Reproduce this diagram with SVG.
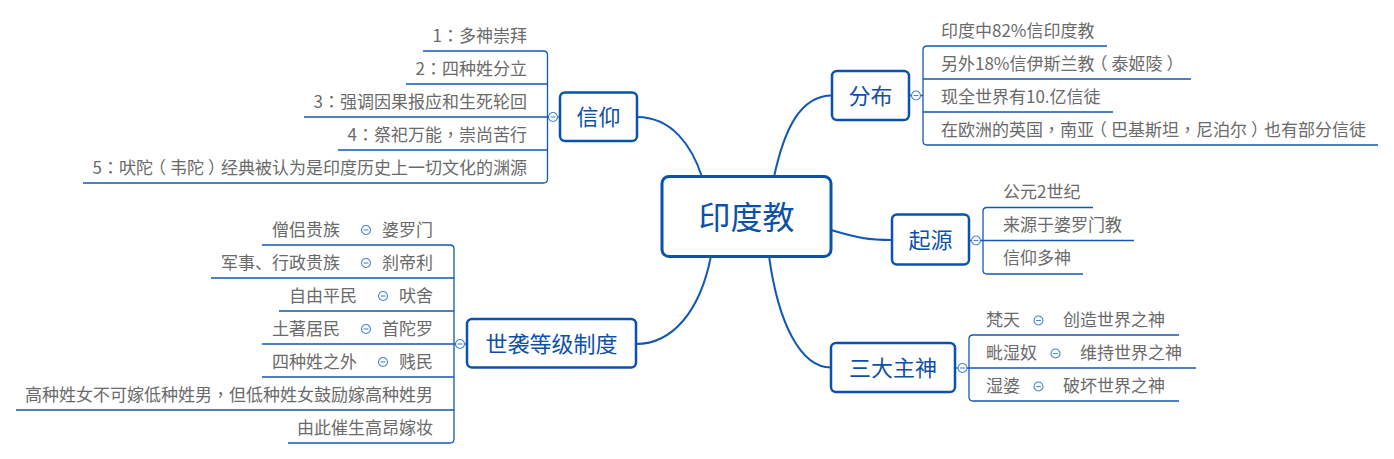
<svg xmlns="http://www.w3.org/2000/svg" xmlns:xlink="http://www.w3.org/1999/xlink" width="1394" height="459" viewBox="0 0 1394 459">
<style>
.t{font-family:"Noto Sans CJK SC","Microsoft YaHei","Liberation Sans",sans-serif;font-size:17px;fill:#6a6a6a}
.p{font-family:"Noto Sans CJK TC","Noto Sans CJK SC",sans-serif}
.tb{font-family:"Noto Sans CJK SC","Microsoft YaHei","Liberation Sans",sans-serif;font-size:22px;fill:#0d50a8;text-anchor:middle}
.tc{font-family:"Noto Sans CJK SC","Microsoft YaHei","Liberation Sans",sans-serif;font-size:32px;fill:#0d50a8;text-anchor:middle}
.e{text-anchor:end}
.k{letter-spacing:-4px}
.box{fill:#fff;stroke:#0b52ad;stroke-width:2.5}
.cbox{fill:#fff;stroke:#0b52ad;stroke-width:3}
.ln{fill:none;stroke:#1259b3;stroke-width:1.3}
.conn{fill:none;stroke:#1259b3;stroke-width:2}
</style>
<defs>
<g id="tog"><circle r="4.5" fill="#fff" stroke="#4a85cf" stroke-width="1.1"/><line x1="-2.4" y1="0" x2="2.4" y2="0" stroke="#4a85cf" stroke-width="1.1"/></g>
</defs>
<rect width="1394" height="459" fill="#fff"/>
<g id="connectors">
<path class="conn" d="M637,117 C672,117 692,146 702,177"/>
<path class="conn" d="M774,177 C784,130 800,95.5 832,95.5"/>
<path class="conn" d="M831,230 C858,238 868,240 892,240"/>
<path class="conn" d="M769,256 C778,322 800,367.5 831,367.5"/>
<path class="conn" d="M711,256 C700,312 672,344 636,344"/>
</g>
<g id="root">
<rect class="cbox" x="662" y="176.5" width="169" height="80" rx="7"/>
<text class="tc" x="746.5" y="228.5">印度教</text>
</g>
<g id="xinyang">
<rect class="box" x="560" y="92.5" width="77" height="48.5" rx="5"/>
<text class="tb" x="598.5" y="125">信仰</text>
<path class="ln" d="M557.5,117 H560"/>
<use xlink:href="#tog" x="553" y="117"/>
<path class="ln" d="M423,51 H543.5 Q547.5,51 547.5,55 V179 Q547.5,183 543.5,183 H83"/>
<path class="ln" d="M406,84 H547.5 M304,117 H548.5 M338,150 H547.5"/>
<text class="t e" x="527" y="42">1<tspan class="p">：</tspan>多神崇拜</text>
<text class="t e" x="527" y="75">2<tspan class="p">：</tspan>四种姓分立</text>
<text class="t e" x="527" y="108">3<tspan class="p">：</tspan>强调因果报应和生死轮回</text>
<text class="t e" x="527" y="141">4<tspan class="p">：</tspan>祭祀万能<tspan class="p">，</tspan>崇尚苦行</text>
<text class="t e" x="527" y="174">5<tspan class="p">：</tspan>吠<tspan class="k">陀</tspan>（<tspan dx="4">韦陀</tspan><tspan class="k" dx="4">）</tspan>经典被认为是印度历史上一切文化的渊源</text>
</g>
<g id="shixi">
<rect class="box" x="467" y="319" width="169" height="48.5" rx="5"/>
<text class="tb" x="551.5" y="352">世袭等级制度</text>
<path class="ln" d="M464.5,344 H467"/>
<use xlink:href="#tog" x="460" y="344"/>
<path class="ln" d="M262,245 H450 Q454,245 454,249 V439 Q454,443 450,443 H288"/>
<path class="ln" d="M211,278 H454 M279,311 H454 M262,344 H455.5 M262,377 H454 M16,410 H454"/>
<text class="t e" x="433" y="236">婆罗门</text>
<use xlink:href="#tog" x="366" y="230"/>
<text class="t e" x="340" y="236">僧侣贵族</text>
<text class="t e" x="433" y="269">刹帝利</text>
<use xlink:href="#tog" x="366" y="263"/>
<text class="t e" x="340" y="269">军事、行政贵族</text>
<text class="t e" x="433" y="302">吠舍</text>
<use xlink:href="#tog" x="383" y="296"/>
<text class="t e" x="357" y="302">自由平民</text>
<text class="t e" x="433" y="335">首陀罗</text>
<use xlink:href="#tog" x="366" y="329"/>
<text class="t e" x="340" y="335">土著居民</text>
<text class="t e" x="433" y="368">贱民</text>
<use xlink:href="#tog" x="383" y="362"/>
<text class="t e" x="357" y="368">四种姓之外</text>
<text class="t e" x="433" y="401">高种姓女不可嫁低种姓男<tspan class="p">，</tspan>但低种姓女鼓励嫁高种姓男</text>
<text class="t e" x="433" y="434">由此催生高昂嫁妆</text>
</g>
<g id="fenbu">
<rect class="box" x="832" y="71" width="77" height="49" rx="5"/>
<text class="tb" x="870.5" y="104">分布</text>
<path class="ln" d="M909,95.5 H911.5 M920.5,95.5 H923"/>
<use xlink:href="#tog" x="916" y="95.5"/>
<path class="ln" d="M1107,46 H927 Q923,46 923,50 V141 Q923,145 927,145 H1378"/>
<path class="ln" d="M923,79 H1191 M923,112 H1113"/>
<text class="t" x="941" y="37">印度中82%信印度教</text>
<text class="t" x="941" y="70">另外18%信伊斯兰<tspan class="k">教</tspan>（<tspan dx="4">泰姬陵</tspan><tspan class="k" dx="4">）</tspan></text>
<text class="t" x="941" y="103">现全世界有10.亿信徒</text>
<text class="t" x="941" y="136">在欧洲的英国<tspan class="p">，</tspan>南<tspan class="k">亚</tspan>（<tspan dx="4">巴基斯坦</tspan><tspan class="p">，</tspan>尼泊尔<tspan class="k" dx="4">）</tspan>也有部分信徒</text>
</g>
<g id="qiyuan">
<rect class="box" x="892" y="214.5" width="77" height="50" rx="5"/>
<text class="tb" x="930.5" y="248">起源</text>
<path class="ln" d="M969,240.5 H971.5"/>
<use xlink:href="#tog" x="976" y="240.5"/>
<path class="ln" d="M1093,207.5 H987 Q983,207.5 983,211.5 V270 Q983,274 987,274 H1083"/>
<path class="ln" d="M980.5,240.5 H1134"/>
<text class="t" x="1003" y="198">公元2世纪</text>
<text class="t" x="1003" y="231">来源于婆罗门教</text>
<text class="t" x="1003" y="264">信仰多神</text>
</g>
<g id="sandazhushen">
<rect class="box" x="831" y="343" width="124" height="49" rx="5"/>
<text class="tb" x="893" y="376">三大主神</text>
<path class="ln" d="M955,368 H958"/>
<use xlink:href="#tog" x="962.5" y="368"/>
<path class="ln" d="M1179,335 H973 Q969,335 969,339 V397 Q969,401 973,401 H1179"/>
<path class="ln" d="M967,368 H1196"/>
<text class="t" x="986" y="326">梵天</text>
<use xlink:href="#tog" x="1038.5" y="320.5"/>
<text class="t" x="1063" y="326">创造世界之神</text>
<text class="t" x="986" y="359">毗湿奴</text>
<use xlink:href="#tog" x="1055.5" y="353.5"/>
<text class="t" x="1080" y="359">维持世界之神</text>
<text class="t" x="986" y="392">湿婆</text>
<use xlink:href="#tog" x="1038.5" y="386.5"/>
<text class="t" x="1063" y="392">破坏世界之神</text>
</g>
</svg>
